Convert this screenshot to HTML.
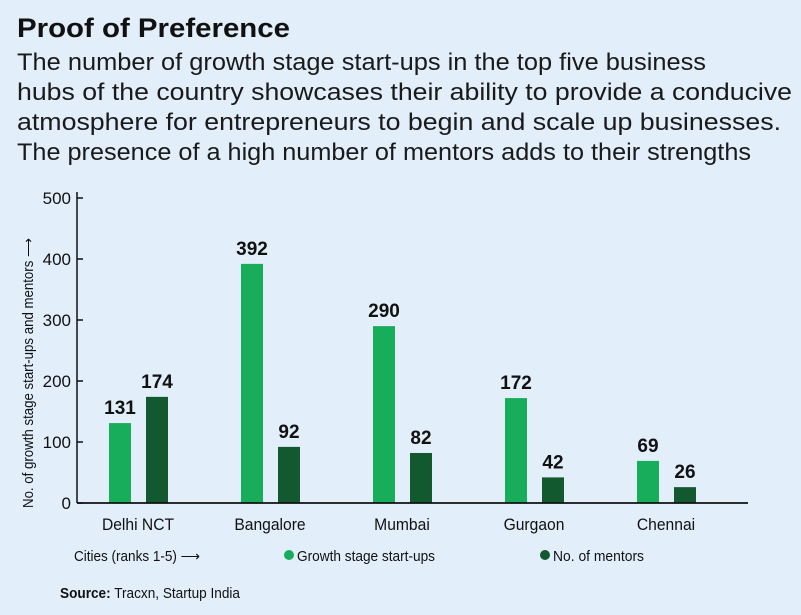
<!DOCTYPE html>
<html><head><meta charset="utf-8"><style>
html,body{margin:0;padding:0;background:#e2eefa;}
svg{display:block;font-family:"Liberation Sans",sans-serif;}
</style></head><body>
<svg id="chart" width="801" height="615" viewBox="0 0 801 615">
<rect width="801" height="615" fill="#e2eefa"/>
<text x="17" y="37" font-weight="bold" font-size="27" fill="#111" textLength="273" lengthAdjust="spacingAndGlyphs">Proof of Preference</text>
<g font-size="24" fill="#1a1a1a">
<text x="17" y="70" textLength="689" lengthAdjust="spacingAndGlyphs">The number of growth stage start-ups in the top five business</text>
<text x="17" y="100" textLength="775" lengthAdjust="spacingAndGlyphs">hubs of the country showcases their ability to provide a conducive</text>
<text x="17" y="130" textLength="764" lengthAdjust="spacingAndGlyphs">atmosphere for entrepreneurs to begin and scale up businesses.</text>
<text x="17" y="160" textLength="734" lengthAdjust="spacingAndGlyphs">The presence of a high number of mentors adds to their strengths</text>
</g>
<g id="plot"></g>
<text transform="translate(33,373) rotate(-90)" text-anchor="middle" font-size="15" fill="#111" textLength="270" lengthAdjust="spacingAndGlyphs">No. of growth stage start-ups and mentors ⟶</text>
<text x="74" y="561" font-size="15" fill="#111" textLength="126" lengthAdjust="spacingAndGlyphs">Cities (ranks 1-5) ⟶</text>
<circle cx="289" cy="555" r="5" fill="#17ad5a"/>
<text x="297" y="561" font-size="15" fill="#111" textLength="138" lengthAdjust="spacingAndGlyphs">Growth stage start-ups</text>
<circle cx="545" cy="555" r="5" fill="#13592f"/>
<text x="553" y="561" font-size="15" fill="#111" textLength="91" lengthAdjust="spacingAndGlyphs">No. of mentors</text>
<text x="60" y="598" font-size="15" fill="#111" textLength="180" lengthAdjust="spacingAndGlyphs"><tspan font-weight="bold">Source:</tspan> Tracxn, Startup India</text>
</svg>
<script>
const categories = ["Delhi NCT","Bangalore","Mumbai","Gurgaon","Chennai"];
const startups = [131,392,290,172,69];
const mentors = [174,92,82,42,26];
const yTicks = [0,100,200,300,400,500];

const NS="http://www.w3.org/2000/svg";
const g=document.getElementById('plot');
const y0=503, y500=198, axX=77, axEnd=748;
function y(v){return y0-(v/500)*(y0-y500);}
function cx(i){return 138+i*132;}
function mk(tag,attrs,text){const e=document.createElementNS(NS,tag);for(const k in attrs)e.setAttribute(k,attrs[k]);if(text!=null)e.textContent=text;g.appendChild(e);return e;}

yTicks.forEach(t=>{
  const l=mk('line',{x1:axX,x2:axX+6,y1:y(t),y2:y(t),stroke:'#111','stroke-width':1.5});
  
  
  const tx=mk('text',{x:71,y:y(t)+6,'text-anchor':'end','font-size':17,fill:'#111'},String(t));
  
  
});
const ya=mk('line',{x1:axX,x2:axX,y1:y500-6,y2:y0,stroke:'#111','stroke-width':1.5});



const bw=22;
categories.forEach((c,i)=>{
  const series=[[startups[i],'#17ad5a',-29,'bar-startups'],[mentors[i],'#13592f',8,'bar-mentors']];
  series.forEach(s=>{
    const x=cx(i)+s[2];
    const r=mk('rect',{x:x,y:y(s[0]),width:bw,height:y0-y(s[0]),fill:s[1]});
    
    
    const t=mk('text',{x:x+bw/2,y:y(s[0])-9,'text-anchor':'middle','font-size':19,'font-weight':'bold',fill:'#111'},String(s[0]));
    
    
  });
  const cl=mk('text',{x:cx(i),y:530,'text-anchor':'middle','font-size':17,fill:'#111',transform:'translate('+cx(i)+',0) scale(0.92,1) translate('+(-cx(i))+',0)'},c);
  
  
});
const xa=mk('line',{x1:axX,x2:axEnd,y1:y0,y2:y0,stroke:'#111','stroke-width':1.8});


</script>
</body></html>
